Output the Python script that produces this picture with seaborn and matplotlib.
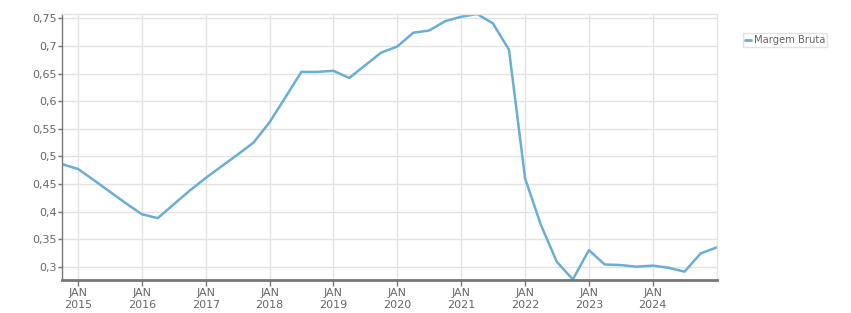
import matplotlib
matplotlib.use("Agg")
import matplotlib.pyplot as plt
import matplotlib.ticker as mticker
from matplotlib.lines import Line2D
import seaborn as sns
import pandas as pd

series_name = "Margem Bruta"
dates = pd.date_range("2014-10-01", "2025-01-01", freq="QS")
values = [0.486,
          0.477, 0.457, 0.436, 0.415,
          0.395, 0.388, 0.413, 0.438,
          0.461, 0.482, 0.503, 0.525,
          0.562, 0.607, 0.653, 0.653,
          0.655, 0.642, 0.665, 0.688,
          0.699, 0.724, 0.728, 0.745,
          0.753, 0.758, 0.741, 0.693,
          0.460, 0.376, 0.309, 0.277,
          0.330, 0.304, 0.303, 0.300,
          0.302, 0.298, 0.291, 0.324,
          0.335]
y_ticks = [0.3, 0.35, 0.4, 0.45, 0.5, 0.55, 0.6, 0.65, 0.7, 0.75]
x_years = list(range(2015, 2025))

df = pd.DataFrame({"date": dates, "value": values, "serie": series_name})

sns.set_theme(style="white")
plt.rcParams['font.family'] = ['DejaVu Sans']

fig = plt.figure(figsize=(8.51, 3.13), dpi=100)
W, H = 851, 313
ax = fig.add_axes([62 / W, (H - 280) / H, (716.7 - 62) / W, (280 - 13.7) / H])

line_color = "#6aaed3"
sns.lineplot(data=df, x="date", y="value", hue="serie", palette=[line_color],
             ax=ax, linewidth=1.8, legend=False)

ax.set_xlim(pd.Timestamp("2014-10-01"), pd.Timestamp("2025-01-01"))
ax.set_ylim(0.2759, 0.7585)
ax.set_yticks(y_ticks)
ax.yaxis.set_major_formatter(mticker.FuncFormatter(
    lambda v, p: ("%g" % round(v, 2)).replace(".", ",")))
ax.set_xticks([pd.Timestamp(f"{y}-01-01") for y in x_years])
ax.set_xticklabels([f"JAN\n{y}" for y in x_years])

ax.grid(True, color="#e3e3e3", linewidth=1)
ax.set_axisbelow(True)
for s in ["top", "right"]:
    ax.spines[s].set_color("#e3e3e3")
    ax.spines[s].set_linewidth(1)
ax.spines["left"].set_color("#777777")
ax.spines["left"].set_linewidth(1)
ax.spines["bottom"].set_color("#777777")
ax.spines["bottom"].set_linewidth(2)

ax.tick_params(axis="both", colors="#777777", labelcolor="#666666", labelsize=8,
               length=4, width=1, direction="out", bottom=True, left=True, pad=2)
ax.tick_params(axis="y", length=3, pad=1)
ax.set_xlabel("")
ax.set_ylabel("")

# legend
handle = Line2D([0], [0], color=line_color, linewidth=2)
leg = fig.legend([handle], [series_name], loc="upper left",
                 bbox_to_anchor=(743 / W, 1 - 33 / H), frameon=True,
                 prop={"family": "DejaVu Sans", "size": 7.2},
                 handlelength=0.6, handletextpad=0.25,
                 borderpad=0.2, borderaxespad=0, fancybox=False)
leg.get_frame().set_edgecolor("#dddddd")
leg.get_frame().set_linewidth(1)
for t in leg.get_texts():
    t.set_color("#666666")

fig.savefig("out.png", dpi=100)
